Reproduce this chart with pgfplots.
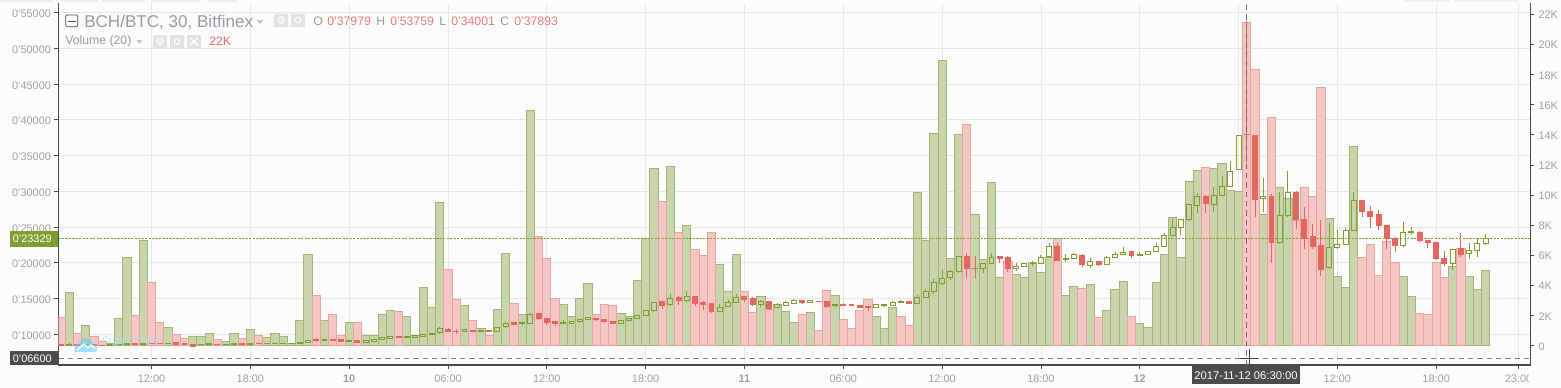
\documentclass[border=0pt]{standalone}
\usepackage{pgfplots}
\usepackage{pgfplotstable}
\pgfplotsset{compat=1.18}
\usepackage{fontspec}
\setmainfont{Liberation Sans}
\definecolor{bgc}{HTML}{FCFCFC}
\definecolor{gridc}{HTML}{E7E7E7}
\definecolor{axc}{HTML}{4A4A4A}
\definecolor{tickc}{HTML}{A0A0A0}
\definecolor{gfill}{HTML}{C8D4AB}
\definecolor{gline}{HTML}{A0B474}
\definecolor{rfill}{HTML}{F3C7C3}
\definecolor{rline}{HTML}{EBA29C}
\definecolor{cg}{HTML}{7F9E30}
\definecolor{cr}{HTML}{E2685F}
\definecolor{lab}{HTML}{9A9AA2}
\definecolor{darkbox}{HTML}{4C4C4C}
\definecolor{icon}{HTML}{E2E2E2}
\pgfplotstableread{
t v
7 3.54
8 1.35
9.5 .16
10 1.82
10.5 5.87
11.5 7.00
13 1.22
14.5 .62
15 .62
15.5 .82
16.5 .29
17 .82
18 1.09
19 .55
19.5 .82
20 .62
20.5 .16
21 1.68
21.5 6.07
22.5 1.68
24 1.55
25 .69
25.5 .69
26 2.08
26.5 2.35
27.5 1.95
28 .69
28.5 3.88
29 2.55
29.5 9.52
31 2.68
32 1.15
33 2.41
33.5 6.14
34.5 2.08
35 15.64
37 2.75
37.5 1.93
38 3.15
38.5 4.14
40.5 2.15
41 1.93
41.5 4.34
42 7.13
42.5 11.78
43.5 11.92
44.5 8.00
46.5 5.40
47 3.61
47.5 6.07
49 3.28
50 2.75
50.5 2.28
51 1.55
52 2.21
53.5 3.34
56 1.95
56.5 1.15
57 2.55
58.5 10.19
59 7.00
59.5 14.11
60 18.96
60.5 5.80
61 14.04
62 8.73
62.5 5.69
63 10.85
63.5 4.54
64.5 4.74
65 4.54
65.5 5.54
66 4.87
66.5 5.87
67.5 3.34
68 3.94
69 4.08
70 2.35
70.5 3.74
71 4.27
72 1.48
72.5 1.22
73 4.21
73.5 6.07
74 8.53
74.5 5.87
75 10.92
75.5 11.65
76.5 11.78
77 12.12
77.5 10.32
78 10.25
79.5 8.73
80.5 10.52
81 9.79
83.5 8.46
84 4.61
84.5 3.88
85 13.24
88 4.61
88.5 3.28
91 5.27
92 4.61
92.5 3.74
93 5.01
}\volgreen
\pgfplotstableread{
t v
6.5 1.88
7.5 .82
8.5 .62
9 .31
11 2.02
12 4.21
12.5 1.55
13.5 .75
14 .49
16 .42
17.5 .49
18.5 .69
22 3.34
23 2.08
23.5 .69
24.5 1.55
27 2.28
30 5.07
30.5 3.08
31.5 1.68
32.5 .69
34 2.81
35.5 7.26
36 5.80
36.5 3.15
39 2.08
39.5 2.75
40 2.68
43 9.59
44 7.53
45 6.40
45.5 6.00
46 7.53
48 3.61
48.5 2.21
49.5 2.41
51.5 2.08
52.5 1.02
53 3.68
54 1.75
54.5 1.15
55 2.35
55.5 3.08
57.5 1.95
58 1.35
61.5 14.71
64 5.60
67 7.13
68.5 3.81
69.5 1.88
71.5 1.95
76 11.85
78.5 21.48
79 18.36
80 15.17
81.5 8.33
82 10.52
82.5 9.92
83 17.17
85.5 5.87
86 6.73
86.5 4.67
87 6.93
87.5 5.54
89 2.15
89.5 2.08
90 5.54
90.5 4.54
91.5 6.47
}\volred
\pgfplotstableread{
t l b c h
7 8410 8460 8600 8740
8 8460 8460 8550 8550
9.5 8480 8480 8530 8530
10 8510 8510 8600 8600
10.5 8600 8600 8680 8680
11.5 8600 8600 8690 8690
13 8700 8700 8760 8760
15 8530 8530 8580 8580
15.5 8550 8620 8680 8790
16.5 8580 8580 8620 8620
17 8600 8600 8740 8740
18 8550 8550 8740 8740
19 8720 8720 8760 8760
19.5 8720 8720 8760 8760
20 8720 8720 8760 8760
20.5 8720 8720 8760 8760
21 8740 8740 8880 8880
21.5 8880 8880 9160 9160
22.5 9110 9110 9300 9300
24 8970 8970 9160 9160
25 8880 8880 9160 9160
25.5 9020 9020 9300 9300
26 9210 9300 9490 9580
26.5 9440 9440 9720 9720
27.5 9490 9580 9670 9770
28 9580 9580 9770 9770
28.5 9720 9720 10000 10000
29 10000 10000 10140 10140
29.5 10090 10190 10750 11030
31 10330 10420 10610 10750
32 10420 10420 10560 10560
33 10420 10420 10930 10930
33.5 10930 11030 11540 11770
34.5 11350 11450 11630 11770
35 11450 11540 12800 12940
37 11450 11540 11630 12010
37.5 11540 11540 11770 11770
38 11630 11770 12050 12100
38.5 12010 12100 12290 12430
40.5 11540 11540 11910 11910
41 11960 11960 12240 12240
41.5 12240 12240 12610 12610
42 12660 12660 13310 13310
42.5 13220 13310 14430 14570
43.5 14060 14150 15040 15600
44.5 14620 14710 15320 16020
46.5 13120 13220 13780 14240
47 13870 13920 14480 14800
47.5 14380 14480 15180 15640
49 13870 14150 14620 14800
50 13680 13780 14100 14340
50.5 13960 14060 14430 14620
51 14240 14340 14660 14940
52 14380 14480 14660 14800
53.5 13870 13960 14100 14290
56 13780 13780 14100 14100
56.5 13820 14010 14100 14240
57 13960 14060 14480 14660
57.5 14380 14480 14570 14760
58.5 14240 14340 15130 15460
59 15080 15180 15970 16300
59.5 15690 15920 17230 17790
60 16950 17090 17840 18950
60.5 17650 17930 18810 18950
61 18720 18770 20870 20960
62.5 18630 19140 19890 20030
63 19840 19930 20770 21330
64.5 18910 19190 19420 19930
65 19510 19510 19930 19930
65.5 19560 19840 19930 20210
66 19840 19930 20770 21100
66.5 20770 20870 22220 22730
67.5 20170 20490 20630 21190
68 20490 20630 21190 21330
69 19330 19650 20170 20630
70 19700 19790 20730 20910
70.5 20680 20770 21190 21570
71 21100 21190 21470 22170
72 20960 21050 21190 21570
72.5 21190 21190 21570 21570
73 21520 21610 22310 22730
73.5 22220 22310 23810 24230
74 23760 23850 24920 26140
74.5 23850 24970 26040 26140
75 25900 26040 28140 28240
75.5 26980 28050 29310 29730
76.5 27120 28190 29400 30610
77 29360 29450 30660 32150
77.5 30610 30710 32760 34210
78 33090 33090 37840 37840
79.5 27120 28980 29260 31870
80.5 22690 22830 26600 29870
81 26460 26600 29820 32850
83.5 19190 19330 22170 25580
84 21940 22130 22550 24600
84.5 22500 22590 24500 24830
85 24460 24550 28700 29870
88 22310 22410 24230 25720
88.5 23950 24180 24320 24970
91 19000 19890 21890 21990
92 20590 21330 21710 22730
92.5 20820 21710 22690 23480
93 22550 22640 23340 23990
}\candup
\pgfplotstableread{
t l b c h
6.5 8410 8410 8600 8600
7.5 8460 8460 8600 8600
8.5 8530 8530 8580 8580
9 8440 8440 8480 8480
11 8630 8630 8670 8670
12 8720 8720 8760 8760
12.5 8720 8720 8760 8760
13.5 8600 8600 8790 8790
14 8600 8600 8690 8690
14.5 8270 8270 8550 8550
16 8580 8580 8620 8620
17.5 8550 8550 8740 8740
18.5 8720 8720 8760 8760
22 9020 9110 9250 9530
23 9110 9110 9300 9300
23.5 8930 9020 9210 9390
24.5 8830 8830 9160 9160
27 9530 9530 9720 9720
30 10330 10420 10700 10840
30.5 10050 10330 10420 10700
31.5 10370 10370 10560 10560
32.5 10330 10330 10510 10510
34 11310 11400 11630 11770
35.5 12100 12190 12840 12940
36 11310 11630 12190 12330
36.5 11210 11540 11730 11730
39 12010 12050 12190 12290
39.5 11730 11770 12010 12100
40 11490 11490 11820 11820
43 13590 14060 14570 14660
44 14100 14660 15080 15360
45 14010 14290 15320 15410
45.5 13450 14150 14430 14660
46 13120 13170 14240 14340
48 14520 14800 15220 15360
48.5 14060 14150 15040 15180
49.5 13450 13540 14620 14710
51.5 14240 14430 14660 14800
52.5 14600 14600 14640 14640
53 13680 13870 14570 14620
54 13960 14060 14100 14340
54.5 14080 14080 14120 14120
55 13730 13730 14060 14060
55.5 13260 13730 13820 13920
58 14340 14340 14570 14570
61.5 17880 19190 20910 21330
62 17790 19140 19230 20960
63.5 20030 20590 20820 20960
64 18720 19230 20770 20960
67 20260 20350 22310 22730
68.5 19470 19750 21050 21190
69.5 19610 19750 20170 20260
71.5 20730 21010 21570 21660
76 26980 28280 29310 29500
78.5 34001 37893 37979 53759
79 26420 28840 37840 37890
80 19980 22870 29310 29590
81.5 24740 26000 29870 30060
82 21940 23390 26090 27820
82.5 21990 22220 23710 25440
83 18160 19050 22450 26000
85.5 26420 27160 28750 28840
86 24880 26460 27210 27960
86.5 24600 25200 26740 27400
87 21940 23430 25250 25340
87.5 21520 22360 23430 23620
89 22970 23060 24270 24460
89.5 22080 22830 23150 23200
90 20490 20590 22870 22970
90.5 19610 19840 20630 21660
91.5 20870 21190 21940 24130
}\canddown
\pgfplotsset{
  base/.style={at={(43.875pt,16.5pt)},anchor=south west,scale only axis,width=1104pt,height=271.5pt,
    xmin=6.35,xmax=95.73,clip=true},
  overlay/.style={base,axis lines=none,ymin=5709,ymax=56314},
}
\begin{document}
\begin{tikzpicture}
\useasboundingbox (0,0) rectangle (1170.75pt,290.25pt);
\fill[bgc] (0,0) rectangle (1170.75pt,290.25pt);
% price axis with grid
\begin{axis}[base,ymin=5709,ymax=56314,
  axis y line*=left,axis x line*=bottom,axis line style={axc,line width=.9pt,-},
  xtick={12,18,24,30,36,42,48,54,60,66,72,78,84,90,95},
  xticklabels={12:00,18:00,\textbf{10},06:00,12:00,18:00,\textbf{11},06:00,12:00,18:00,\textbf{12},,12:00,18:00,23:00},
  ytick={10000,15000,20000,25000,30000,35000,40000,45000,50000,55000},
  yticklabels={0'10000,0'15000,0'20000,0'25000,0'30000,0'35000,0'40000,0'45000,0'50000,0'55000},
  grid=major,grid style={gridc,line width=.6pt},
  tick style={axc,line width=.6pt},
  major tick length=3pt,
  tick align=outside,
  yticklabel style={font=\fontsize{8.2pt}{9pt}\selectfont,text=tickc,xshift=.9pt,yshift=-1pt},
  xticklabel style={font=\fontsize{8.2pt}{9pt}\selectfont,text=tickc,yshift=-1pt},
]
\addplot[draw=none] coordinates {(12,10000)};
\end{axis}
% volume axis
\begin{axis}[base,ymin=-1.285,ymax=22.75,
  axis y line*=right,axis x line=none,axis line style={axc,line width=.9pt,-},
  ytick={0,2,4,6,8,10,12,14,16,18,20,22},
  yticklabels={0,2K,4K,6K,8K,10K,12K,14K,16K,18K,20K,22K},
  tick style={axc,line width=.6pt},major tick length=2.5pt,tick align=outside,
  yticklabel style={font=\fontsize{8.2pt}{9pt}\selectfont,text=tickc,yshift=-.6pt},
  ybar,bar width=0.5,bar shift=0pt,
]
\addplot[fill=gfill,draw=gline,line width=.7pt] table[x=t,y=v]{\volgreen};
\addplot[fill=rfill,draw=rline,line width=.7pt] table[x=t,y=v]{\volred};
\end{axis}
% price lines and wicks
\begin{axis}[overlay]
\addplot[cg,line width=.7pt,dash pattern=on 1.6pt off 1pt] coordinates {(6.35,23329)(95.73,23329)};
\addplot[gray,line width=.6pt,dash pattern=on 4pt off 3pt] coordinates {(6.35,6600)(95.73,6600)};
\addplot[draw=none,mark=none,error bars/.cd,y dir=plus,y explicit,error mark=none,error bar style={cg,line width=.7pt}]
  table[x=t,y=c,y error plus expr=\thisrow{h}-\thisrow{c}]{\candup};
\addplot[draw=none,mark=none,error bars/.cd,y dir=minus,y explicit,error mark=none,error bar style={cg,line width=.7pt}]
  table[x=t,y=b,y error minus expr=\thisrow{b}-\thisrow{l}]{\candup};
\addplot[draw=none,mark=none,error bars/.cd,y dir=plus,y explicit,error mark=none,error bar style={cr,line width=.7pt}]
  table[x=t,y=c,y error plus expr=\thisrow{h}-\thisrow{c}]{\canddown};
\addplot[draw=none,mark=none,error bars/.cd,y dir=minus,y explicit,error mark=none,error bar style={cr,line width=.7pt}]
  table[x=t,y=b,y error minus expr=\thisrow{b}-\thisrow{l}]{\canddown};
\end{axis}
% up candle bodies
\begin{axis}[overlay,ybar stacked,bar width=0.3]
\addplot[draw=none,fill=none] table[x=t,y=b]{\candup};
\addplot[draw=cg,fill=none,line width=.75pt] table[x=t,y expr=\thisrow{c}-\thisrow{b}]{\candup};
\end{axis}
% down candle bodies
\begin{axis}[overlay,ybar stacked,bar width=0.3]
\addplot[draw=none,fill=none] table[x=t,y=b]{\canddown};
\addplot[draw=cr,fill=cr,line width=.75pt] table[x=t,y expr=\thisrow{c}-\thisrow{b}]{\canddown};
\end{axis}
% crosshair
\begin{axis}[overlay]
\addplot[gray!85!black,line width=.6pt,dash pattern=on 4pt off 3pt] coordinates {(78.5,5709)(78.5,56314)};
\end{axis}
\begin{scope}[shift={(0pt,290.25pt)},x=0.75pt,y=-0.75pt]
% clip of 23:00
\fill[bgc] (1529.4,366.5) rectangle (1561,387);
% faint tabs on top
\fill[icon!60] (0,0) rectangle (54,2) (60,0) rectangle (98,2) (102,0) rectangle (145,2) (150,0) rectangle (200,2) (207,0) rectangle (238,2) (1405,0) rectangle (1450,1.5) (1454,0) rectangle (1518,1.5);
% price boxes
\fill[cg] (10,231) rectangle (58,246.7);
\node[text=white,font=\fontsize{8.2pt}{9pt}\selectfont,anchor=east,inner sep=0pt] at (52,239) {0'23329};
\fill[darkbox] (10,351.3) rectangle (58,364.5);
\node[text=white,font=\fontsize{8.2pt}{9pt}\selectfont,anchor=east,inner sep=0pt] at (52,358.5) {0'06600};
\fill[darkbox] (1192,365) rectangle (1300,384);
\node[text=white,font=\fontsize{8.4pt}{9pt}\selectfont] at (1246,376) {2017-11-12 06:30:00};
% cross cursor
\draw[black!75,line width=.6pt] (1240,358) -- (1258,358) (1249,349) -- (1249,367);
% logo
\fill[cyan!60!white,opacity=.6] (75,352) .. controls (73,345) and (77,343) .. (79,344) .. controls (81,336) and (92,336) .. (93,344) .. controls (98,344) and (98,351) .. (95,352) -- cycle;
\draw[white,line width=1pt] (77,350) -- (84,344) -- (88,348) -- (91,345) -- (95,349);
\node[text=cyan!35!white,opacity=.85,font=\fontsize{7pt}{8pt}\selectfont,anchor=west,inner sep=0pt] at (102,341) {Crypto Trader};
% header
\draw[axc,line width=.6pt,rounded corners=1pt] (65.7,15) rectangle (77.7,26.7);
\draw[axc,line width=.6pt] (67.5,21) -- (76,21);
\node[text=lab,font=\fontsize{12.8pt}{14pt}\selectfont,anchor=west,inner sep=0pt] at (84,22.3) {BCH/BTC, 30, Bitfinex};
\fill[icon!70!gray] (256.5,20) -- (263.5,20) -- (260,24) -- cycle;
\fill[icon] (274,13.5) rectangle (288,27) (291,13.5) rectangle (305,27);
\draw[white,line width=.8pt] (281,20.2) circle (3.2) (298,20.2) circle (2.8);
\fill[white] (281,20.2) circle (1.2);
\node[text=lab,font=\fontsize{9.2pt}{10pt}\selectfont,anchor=west,inner sep=0pt] at (313,21.7) {O};
\node[text=cr!85!white,font=\fontsize{9.2pt}{10pt}\selectfont,anchor=west,inner sep=0pt] at (327,21.7) {0'37979};
\node[text=lab,font=\fontsize{9.2pt}{10pt}\selectfont,anchor=west,inner sep=0pt] at (376,21.7) {H};
\node[text=cr!85!white,font=\fontsize{9.2pt}{10pt}\selectfont,anchor=west,inner sep=0pt] at (390,21.7) {0'53759};
\node[text=lab,font=\fontsize{9.2pt}{10pt}\selectfont,anchor=west,inner sep=0pt] at (439,21.7) {L};
\node[text=cr!85!white,font=\fontsize{9.2pt}{10pt}\selectfont,anchor=west,inner sep=0pt] at (451,21.7) {0'34001};
\node[text=lab,font=\fontsize{9.2pt}{10pt}\selectfont,anchor=west,inner sep=0pt] at (500,21.7) {C};
\node[text=cr!85!white,font=\fontsize{9.2pt}{10pt}\selectfont,anchor=west,inner sep=0pt] at (514,21.7) {0'37893};
\node[text=lab,font=\fontsize{9.2pt}{10pt}\selectfont,anchor=west,inner sep=0pt] at (65,41.7) {Volume (20)};
\fill[icon!70!gray] (136.5,40) -- (142.5,40) -- (139.5,44) -- cycle;
\fill[icon] (153,35) rectangle (167,48) (170,35) rectangle (184,48) (187,35) rectangle (201,48);
\draw[white,line width=.8pt] (160,41.5) circle (3) (177,41.5) circle (2.7) (190.5,38) -- (197.5,45) (197.5,38) -- (190.5,45);
\fill[white] (160,41.5) circle (1.1);
\node[text=cr,font=\fontsize{9.2pt}{10pt}\selectfont,anchor=west,inner sep=0pt] at (209,41.7) {22K};
\end{scope}
\end{tikzpicture}
\end{document}
